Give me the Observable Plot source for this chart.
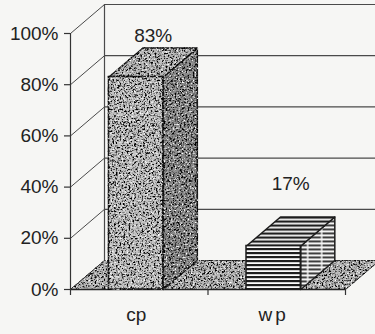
<!DOCTYPE html>
<html><head><meta charset="utf-8">
<script src="https://cdn.jsdelivr.net/npm/d3@7"></script>
<script src="https://cdn.jsdelivr.net/npm/@observablehq/plot@0.6"></script>
<style>
html,body{margin:0;padding:0;background:#f6f6f4;}
#chart{width:375px;height:334px;overflow:hidden;}
</style></head><body><div id="chart"></div>
<script>
// ---- data ----
const categories = ["cp", "wp"];
const shares = [0.83, 0.17];
const valueLabels = ["83%", "17%"];
const yTicks = [0, 0.2, 0.4, 0.6, 0.8, 1];
const yTickLabels = ["0%", "20%", "40%", "60%", "80%", "100%"];

// ---- layout ----
const W = 375, H = 334, ML = 70, MR = 30, MT = 33, MB = 45;
const n = categories.length;
const xPerPx = n / (W - ML - MR);
const yPerPx = 1 / (H - MT - MB);
const DX = 34 * xPerPx, DY = 29 * yPerPx;   // 3-D depth offset
const barLeft = 0.28, barRight = 0.675;
const TX = 6 * xPerPx, TY = 6 * yPerPx;

const bars = categories.map((c, i) => ({cat: c, i, v: shares[i], x1: i + barLeft, x2: i + barRight}));
const pts = arr => arr.map(([x, y]) => ({x, y}));
const topFace = b => pts([[b.x1, b.v], [b.x2, b.v], [b.x2 + DX, b.v + DY], [b.x1 + DX, b.v + DY], [b.x1, b.v]]);
const sideFace = b => pts([[b.x2, 0], [b.x2 + DX, DY], [b.x2 + DX, b.v + DY], [b.x2, b.v], [b.x2, 0]]);
const floor = pts([[0, 0], [n, 0], [n + DX, DY], [DX, DY], [0, 0]]);

const faceStyle = {
  cp: {front: "#c2c2c2", top: "#b6b6b6", side: "#8a8a8a", grain: true},
  wp: {front: "url(#stripes)", top: "url(#stripes)", side: "url(#stripes2)", grain: false}
};
const edge = "#1c1c1c";

const barMarks = bars.flatMap(b => {
  const s = faceStyle[b.cat];
  const tag = s.grain ? "grain" : "plain";
  return [
    Plot.line(sideFace(b), {x: "x", y: "y", fill: s.side, stroke: edge, strokeWidth: 1.5, ariaDescription: tag}),
    Plot.line(topFace(b), {x: "x", y: "y", fill: s.top, stroke: edge, strokeWidth: 1.5, ariaDescription: tag}),
    Plot.rect([b], {x1: "x1", x2: "x2", y1: 0, y2: "v", fill: s.front, stroke: edge, strokeWidth: 1.5, ariaDescription: tag})
  ];
});

const font = "'Liberation Sans', Arial, sans-serif";
const fs = 19;

const svg = Plot.plot({
  width: W, height: H,
  marginLeft: ML, marginRight: MR, marginTop: MT, marginBottom: MB,
  x: {domain: [0, n], axis: null},
  y: {domain: [0, 1], axis: null},
  style: {background: "transparent", overflow: "visible", fontFamily: font, color: "#222"},
  marks: [
    // back wall gridlines
    Plot.ruleY(yTicks, {y: d => d + DY, x1: DX, x2: n + DX, stroke: "#4a4a4a", strokeWidth: 1.2}),
    // side wall diagonals
    Plot.link(yTicks, {x1: 0, y1: d => d, x2: DX, y2: d => d + DY, stroke: "#4a4a4a", strokeWidth: 1}),
    // back wall left edge
    Plot.ruleX([DX], {y1: DY, y2: 1 + DY, stroke: "#4a4a4a", strokeWidth: 1.2}),
    // floor
    Plot.line(floor, {x: "x", y: "y", fill: "#b4b4b4", stroke: "#333", strokeWidth: 1, ariaDescription: "grain"}),
    // front value axis
    Plot.ruleX([0], {y1: 0, y2: 1, stroke: "#333", strokeWidth: 1.2}),
    Plot.ruleY(yTicks, {x1: -TX, x2: 0, stroke: "#333", strokeWidth: 1.2}),
    Plot.text(yTicks, {x: 0, y: d => d, text: (d, i) => yTickLabels[i], textAnchor: "end", dx: -12, fontSize: fs, fill: "#222"}),
    // category axis
    Plot.ruleY([0], {x1: 0, x2: n, stroke: "#222", strokeWidth: 1.5}),
    Plot.ruleX(d3.range(n + 1), {y1: -TY, y2: 0, stroke: "#333", strokeWidth: 1.2}),
    ...barMarks,
    Plot.text(bars, {x: b => b.i + (barLeft + barRight) / 2, y: 0, text: "cat", dy: 25, fontSize: fs, fill: "#222", ariaDescription: "categories"}),
    Plot.text([bars[0]], {x: b => (b.x1 + b.x2) / 2 + DX / 2, y: "v", text: b => valueLabels[b.i], dy: -41, fontSize: fs, fill: "#222"}),
    Plot.text([bars[1]], {x: b => (b.x1 + b.x2) / 2 + DX / 2, y: "v", text: b => valueLabels[b.i], dy: -62, fontSize: fs, fill: "#222"})
  ]
});

d3.select(svg).insert("defs", ":first-child").html(`
  <pattern id="stripes" patternUnits="userSpaceOnUse" width="8" height="4">
    <rect width="8" height="4" fill="#fbfbfb"/><rect width="8" height="2.2" fill="#1e1e1e"/>
  </pattern>
  <pattern id="stripes2" patternUnits="userSpaceOnUse" width="14" height="4">
    <rect width="14" height="4" fill="#f4f4f4"/><rect width="12.5" height="1.8" fill="#2a2a2a"/>
  </pattern>
  <filter id="grain" x="-5%" y="-5%" width="110%" height="110%" color-interpolation-filters="sRGB">
    <feTurbulence type="fractalNoise" baseFrequency="0.55" numOctaves="2" seed="4" result="n"/>
    <feColorMatrix in="n" type="matrix" values="0 0 0 0 0  0 0 0 0 0  0 0 0 0 0  -4.5 0 0 0 2.35" result="dk"/>
    <feColorMatrix in="n" type="matrix" values="0 0 0 0 1  0 0 0 0 1  0 0 0 0 1  0 4 0 0 -2.2" result="lt"/>
    <feComposite in="dk" in2="SourceGraphic" operator="in" result="dk2"/>
    <feComposite in="lt" in2="SourceGraphic" operator="in" result="lt2"/>
    <feMerge><feMergeNode in="SourceGraphic"/><feMergeNode in="dk2"/><feMergeNode in="lt2"/></feMerge>
  </filter>`);
d3.select(svg).selectAll('g[aria-description="grain"] path, g[aria-description="grain"] rect').attr("filter", "url(#grain)");
d3.select(svg).selectAll('g[aria-description="categories"] text').filter(function(){ return this.textContent === "wp"; }).attr("letter-spacing", "3px");
document.getElementById("chart").appendChild(svg);
</script></body></html>
